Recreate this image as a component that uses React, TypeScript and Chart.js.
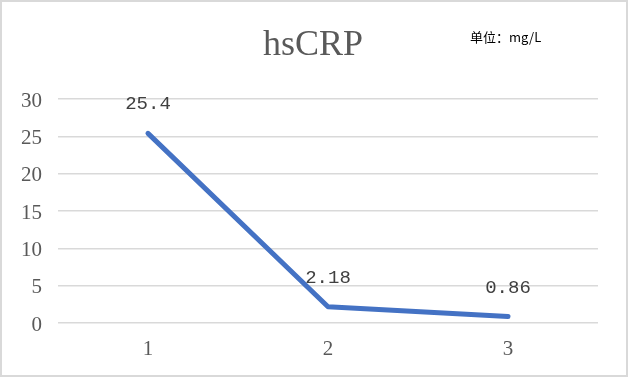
import React, { useEffect, useRef } from 'react';
import { Chart, registerables } from 'chart.js';

Chart.register(...registerables);

const categories = ['1', '2', '3'];
const values = [25.4, 2.18, 0.86];
const valueLabels = ['25.4', '2.18', '0.86'];
const yTicks = [0, 5, 10, 15, 20, 25, 30];
const titleText = 'hsCRP';
const unitText = '单位：mg/L';

const decorPlugin = {
  id: 'decor',
  beforeDraw(chart: any) {
    const ctx = chart.ctx;
    ctx.save();
    ctx.fillStyle = '#ffffff';
    ctx.fillRect(0, 0, chart.width, chart.height);
    ctx.strokeStyle = '#d9d9d9';
    ctx.lineWidth = 2;
    ctx.strokeRect(1, 1, chart.width - 2, chart.height - 2);
    ctx.restore();
  },
  afterDatasetsDraw(chart: any) {
    const ctx = chart.ctx;
    const meta = chart.getDatasetMeta(0);
    ctx.save();
    ctx.font = '19px "Liberation Mono", monospace';
    ctx.fillStyle = '#404040';
    ctx.textAlign = 'center';
    ctx.textBaseline = 'middle';
    meta.data.forEach((pt: any, i: number) => {
      ctx.fillText(valueLabels[i], pt.x, pt.y - 29);
    });
    ctx.restore();
  },
  afterDraw(chart: any) {
    const ctx = chart.ctx;
    ctx.save();
    ctx.font = '36px "Liberation Serif", serif';
    ctx.fillStyle = '#595959';
    ctx.textAlign = 'center';
    ctx.textBaseline = 'alphabetic';
    ctx.fillText(titleText, 313, 55);
    ctx.font = '13px "Noto Sans CJK SC", sans-serif';
    ctx.fillStyle = '#000000';
    ctx.textAlign = 'left';
    ctx.textBaseline = 'middle';
    ctx.fillText(unitText, 470, 37);
    ctx.restore();
  },
};

export default function App() {
  const ref = useRef<HTMLCanvasElement>(null);
  useEffect(() => {
    if (!ref.current) return;
    const chart = new Chart(ref.current, {
      type: 'line',
      data: {
        labels: categories,
        datasets: [
          {
            data: values,
            borderColor: '#4472C4',
            borderWidth: 5,
            borderCapStyle: 'round',
            borderJoinStyle: 'round',
            pointRadius: 0,
            tension: 0,
            fill: false,
          },
        ],
      },
      options: {
        responsive: false,
        animation: false,
        layout: { padding: { left: 0, right: 30, top: 99, bottom: 0 } },
        plugins: { legend: { display: false }, title: { display: false }, tooltip: { enabled: false } },
        scales: {
          x: {
            type: 'category',
            offset: true,
            grid: { display: false, drawTicks: false },
            border: { display: false },
            ticks: {
              padding: 14,
              color: '#595959',
              font: { family: '"Liberation Serif", serif', size: 21 },
            },
            afterFit: (s: any) => {
              s.height = 54;
            },
          },
          y: {
            min: 0,
            max: 30,
            grid: { color: '#d9d9d9', lineWidth: 1.5, drawTicks: false },
            border: { display: false },
            ticks: {
              padding: 16,
              labelOffset: 2,
              color: '#595959',
              font: { family: '"Liberation Serif", serif', size: 21 },
            },
            afterBuildTicks: (s: any) => {
              s.ticks = yTicks.map((v) => ({ value: v }));
            },
            afterFit: (s: any) => {
              s.width = 58;
            },
          },
        },
      },
      plugins: [decorPlugin],
    });
    return () => chart.destroy();
  }, []);
  return (
    <div style={{ position: 'fixed', left: 0, top: 0, width: 628, height: 377 }}>
      <canvas ref={ref} width={628} height={377} style={{ display: 'block' }} />
    </div>
  );
}
